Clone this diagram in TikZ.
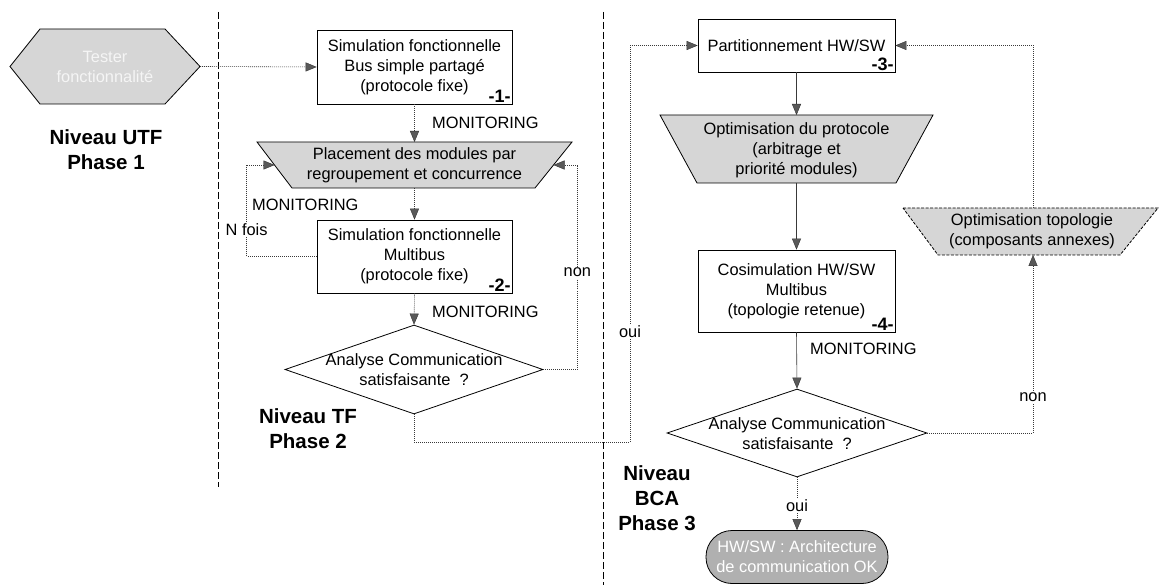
\documentclass[tikz,border=0pt]{standalone}
\usepackage{fontspec}
\setmainfont{Liberation Sans}
\usetikzlibrary{arrows.meta,shapes.geometric}

\tikzset{
  txt/.style={font=\fontsize{16.4}{20}\selectfont, align=center, inner sep=0pt},
  lvl/.style={font=\fontsize{20.5}{25}\selectfont\bfseries, align=center, inner sep=0pt},
  num/.style={font=\fontsize{18}{18}\selectfont\bfseries, anchor=south east, inner sep=1.5pt},
  box/.style={draw=black, line width=0.8pt, fill=white},
  shade/.style={draw=black, line width=0.8pt, fill=gray!32},
  sep/.style={black, line width=0.8pt, dash pattern=on 7pt off 3pt},
  flow/.style={draw=gray!45!black, line width=0.6pt, dash pattern=on 1pt off 1pt,
    -{Triangle[length=11pt,width=9pt,fill=gray!70!black,color=gray!40!black,line width=0.4pt]}},
  flowsolid/.style={flow, solid},
  tag/.style={txt, fill=white, inner sep=1.5pt},
}

\begin{document}
\begin{tikzpicture}[x=1pt,y=-1pt]
\useasboundingbox (0,0) rectangle (1161,585);
\fill[white] (0,0) rectangle (1161,585);

% level separators
\draw[sep] (218,12) -- (218,487);
\draw[sep] (603,12) -- (603,585);

% level labels
\node[lvl] (lv1) at (106,150) {Niveau UTF\\Phase 1};
\node[lvl] (lv2) at (308,429) {Niveau TF\\Phase 2};
\node[lvl] (lv3) at (657,498) {Niveau\\BCA\\Phase 3};

% start: hexagon
\draw[shade] (10,66.5) -- (40,29) -- (165,29) -- (200,66.5) -- (165,104) -- (40,104) -- cycle;
\coordinate (hxe) at (200,66.5);
\node[txt, text=gray!8] (hx) at (105,67) {Tester\\fonctionnalité};

% phase 2
\node[box, txt, minimum width=195pt, minimum height=74pt] (b1) at (414.5,67)
  {Simulation fonctionnelle\\Bus simple partagé\\(protocole fixe)};
\node[num] (n1) at (b1.south east) {-1-};

\draw[shade] (257,142) -- (572,142) -- (535,188) -- (292,188) -- cycle;
\coordinate (t1n) at (414.5,142);
\coordinate (t1s) at (414.5,188);
\coordinate (t1w) at (274.5,165);
\coordinate (t1e) at (553.5,165);
\node[txt] (t1) at (414.5,165) {Placement des modules par\\regroupement et concurrence};

\node[box, txt, minimum width=195pt, minimum height=73pt] (b2) at (414.5,256.5)
  {Simulation fonctionnelle\\Multibus\\(protocole fixe)};
\node[num] (n2) at (b2.south east) {-2-};

\node[diamond, draw=black, line width=0.8pt, minimum width=258pt, minimum height=89pt, inner sep=0pt] (d1) at (414,369.5) {};
\node[txt] (d1t) at (414,370) {Analyse Communication\\satisfaisante ~?};

\node[txt, anchor=west] (m1) at (432,123) {MONITORING};
\node[txt, anchor=west] (m2) at (252,205) {MONITORING};
\node[txt, anchor=west] (m3) at (432,312) {MONITORING};

% phase 3
\node[box, txt, minimum width=197pt, minimum height=53pt] (b3) at (796.5,45.5)
  {Partitionnement HW/SW};
\node[num] (n3) at (b3.south east) {-3-};

\draw[shade] (660,115) -- (933,115) -- (896,183) -- (697,183) -- cycle;
\coordinate (t2n) at (796.5,115);
\coordinate (t2s) at (796.5,183);
\node[txt] (t2) at (796.5,150) {Optimisation du protocole\\(arbitrage et\\priorité modules)};

\node[box, txt, minimum width=197pt, minimum height=82pt] (b4) at (796.5,291)
  {Cosimulation HW/SW\\Multibus\\(topologie retenue)};
\node[num] (n4) at (b4.south east) {-4-};

\node[diamond, draw=black, line width=0.8pt, minimum width=260pt, minimum height=88pt, inner sep=0pt] (d2) at (797,433) {};
\node[txt] (d2t) at (797,434) {Analyse Communication\\satisfaisante ~?};

\node[txt, anchor=west] (m4) at (810,349) {MONITORING};

\draw[shade, dash pattern=on 3pt off 1.5pt] (903,208) -- (1158,208) -- (1120,255) -- (938,255) -- cycle;
\coordinate (t3n) at (1033,208);
\coordinate (t3s) at (1033,255);
\node[txt] (t3) at (1032,231.5) {Optimisation topologie\\(composants annexes)};

\node[draw=black, line width=0.8pt, fill=gray!62, rounded corners=26pt, minimum width=182pt,
  minimum height=53pt, txt, text=white] (end) at (797,557) {HW/SW : Architecture\\de communication OK};

% connectors
\draw[flow] (hxe) -- (b1.west);
\draw[flow] (b1.south) -- (t1n);
\draw[flow] (t1s) -- (b2.north);
\draw[flow] (b2.west) -- ++(-70,0) |- (t1w) node[tag, pos=0.145] {N fois};
\draw[flow] (b2.south) -- (d1.north);
\draw[flow] (d1.east) -- ++(34,0) |- (t1e) node[tag, pos=0.237] {non};
\draw[flow] (d1.south) |- (630,442) |- (b3.west) node[tag, pos=0.139] {oui};

\draw[flowsolid] (b3.south) -- (t2n);
\draw[flowsolid] (t2s) -- (b4.north);
\draw[flowsolid] (b4.south) -- (d2.north);
\draw[flow] (d2.south) -- (end.north) node[tag, pos=0.53] {oui};
\draw[flow] (d2.east) -| (t3s) node[tag, pos=0.6] {non};
\draw[flow] (t3n) |- (b3.east);
\end{tikzpicture}
\end{document}
